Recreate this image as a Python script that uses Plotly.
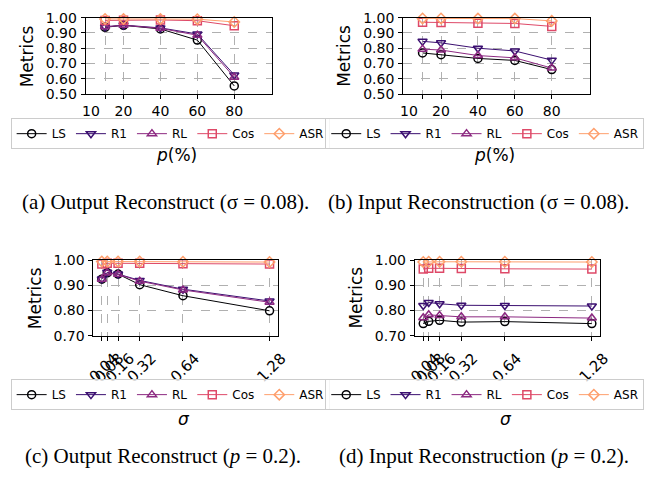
import plotly.graph_objects as go

W, H = 654, 479

series_names = ["LS", "R1", "RL", "Cos", "ASR"]
series_colors = ["#000004", "#3b0f70", "#8c2981", "#de4968", "#fe9f6d"]
series_symbols = ["circle-open", "triangle-down-open", "triangle-up-open", "square-open", "diamond-open"]

# Panel (a) & (b): x = p(%)
p_vals = [10, 20, 40, 60, 80]
p_ticktext = ["10", "20", "40", "60", "80"]

a_LS = [0.937, 0.950, 0.926, 0.853, 0.553]
a_R1 = [0.940, 0.951, 0.933, 0.893, 0.625]
a_RL = [0.940, 0.950, 0.930, 0.885, 0.610]
a_Cos = [0.982, 0.983, 0.985, 0.980, 0.947]
a_ASR = [0.992, 0.992, 0.992, 0.990, 0.972]

b_LS = [0.769, 0.758, 0.733, 0.720, 0.660]
b_R1 = [0.845, 0.835, 0.800, 0.782, 0.722]
b_RL = [0.794, 0.788, 0.752, 0.737, 0.670]
b_Cos = [0.970, 0.969, 0.964, 0.962, 0.943]
b_ASR = [0.995, 0.995, 0.994, 0.994, 0.979]

# Panel (c) & (d): x = sigma
s_vals = [0.04, 0.08, 0.16, 0.32, 0.64, 1.28]
s_ticktext = ["0.04", "0.08", "0.16", "0.32", "0.64", "1.28"]

c_LS = [0.925, 0.950, 0.945, 0.903, 0.859, 0.799]
c_R1 = [0.926, 0.952, 0.945, 0.920, 0.885, 0.838]
c_RL = [0.925, 0.950, 0.944, 0.917, 0.882, 0.833]
c_Cos = [0.985, 0.988, 0.988, 0.988, 0.986, 0.985]
c_ASR = [0.995, 0.995, 0.995, 0.995, 0.994, 0.993]

d_LS = [0.748, 0.757, 0.761, 0.754, 0.756, 0.748]
d_R1 = [0.820, 0.832, 0.827, 0.821, 0.820, 0.818]
d_RL = [0.771, 0.783, 0.780, 0.775, 0.775, 0.770]
d_Cos = [0.965, 0.968, 0.968, 0.967, 0.966, 0.965]
d_ASR = [0.993, 0.994, 0.994, 0.994, 0.994, 0.993]

captions = [
    "(a) Output Reconstruct (σ = 0.08).",
    "(b) Input Reconstruction (σ = 0.08).",
    "(c) Output Reconstruct (<i>p</i> = 0.2).",
    "(d) Input Reconstruction (<i>p</i> = 0.2).",
]

panels = [
    dict(x=p_vals, ys=[a_LS, a_R1, a_RL, a_Cos, a_ASR], px=(80, 272), py=(10, 89),
         xr=[-0.5, 100.5], yr=[0.5, 1.0], ytv=[0.5, 0.6, 0.7, 0.8, 0.9, 1.0],
         ttext=p_ticktext, angle=0, shift=0, standoff=0, xfs=14,
         xtitle="<i>p</i>(%)", xt_y=152,
         leg_x=167, leg_y=130, cap_x=162, cap_y=201, ylab_x=19, firstlab=True),
    dict(x=p_vals, ys=[b_LS, b_R1, b_RL, b_Cos, b_ASR], px=(407, 599), py=(10, 89),
         xr=[-0.5, 100.5], yr=[0.5, 1.0], ytv=[0.5, 0.6, 0.7, 0.8, 0.9, 1.0],
         ttext=p_ticktext, angle=0, shift=0, standoff=0, xfs=14,
         xtitle="<i>p</i>(%)", xt_y=152,
         leg_x=491, leg_y=130, cap_x=485, cap_y=201, ylab_x=346, firstlab=True),
    dict(x=s_vals, ys=[c_LS, c_R1, c_RL, c_Cos, c_ASR], px=(88, 278), py=(261, 339),
         xr=[-0.022, 1.342], yr=[0.7, 1.0], ytv=[0.7, 0.8, 0.9, 1.0],
         ttext=s_ticktext, angle=-45, shift=12, standoff=3, xfs=15,
         xtitle="<i>σ</i>", xt_y=425,
         leg_x=167, leg_y=400, cap_x=160, cap_y=463, ylab_x=28, firstlab=False),
    dict(x=s_vals, ys=[d_LS, d_R1, d_RL, d_Cos, d_ASR], px=(419, 610), py=(261, 339),
         xr=[-0.022, 1.342], yr=[0.7, 1.0], ytv=[0.7, 0.8, 0.9, 1.0],
         ttext=s_ticktext, angle=-45, shift=12, standoff=3, xfs=15,
         xtitle="<i>σ</i>", xt_y=425,
         leg_x=491, leg_y=400, cap_x=490, cap_y=463, ylab_x=358, firstlab=False),
]

FONT = "DejaVu Sans"
TICKSIZE = 14
fig = go.Figure()
layout = dict(width=W, height=H, margin=dict(l=0, r=0, t=0, b=0),
              paper_bgcolor="white", plot_bgcolor="white", showlegend=True,
              font=dict(family=FONT, size=14, color="black"))
annotations = []

for i, pn in enumerate(panels):
    k = "" if i == 0 else str(i + 1)
    legname = "legend" + k
    for j in range(5):
        fig.add_trace(go.Scatter(
            x=pn["x"], y=pn["ys"][j], name=series_names[j], mode="lines+markers",
            line=dict(color=series_colors[j], width=1),
            marker=dict(symbol=series_symbols[j], size=8, color=series_colors[j],
                        line=dict(width=1.5, color=series_colors[j])),
            cliponaxis=False,
            xaxis="x" + k, yaxis="y" + k, legend=legname, showlegend=True))
    x0, x1 = pn["px"]
    y0, y1 = pn["py"]
    ttext = list(pn["ttext"])
    if pn["firstlab"]:
        # the first tick label sits left of its tick (as in the reference)
        annotations.append(dict(text=ttext[0], x=pn["x"][0], xref="x" + k,
                                y=1 - (y1 + 18) / H, yref="paper", xshift=-14,
                                showarrow=False, xanchor="center", yanchor="middle",
                                font=dict(family=FONT, size=pn["xfs"], color="black")))
        ttext[0] = ""
    axcommon = dict(showline=True, linecolor="black", linewidth=1, mirror=True,
                    ticks="outside", ticklen=4, tickcolor="black",
                    showgrid=True, gridcolor="#b0b0b0", griddash="dash", gridwidth=0.8,
                    zeroline=False)
    layout["xaxis" + k] = dict(axcommon, domain=[x0 / W, x1 / W], range=pn["xr"],
                               tickmode="array", tickvals=pn["x"], ticktext=ttext,
                               tickangle=pn["angle"], ticklabelshift=pn["shift"],
                               ticklabelstandoff=pn["standoff"],
                               tickfont=dict(family=FONT, size=pn["xfs"], color="black"),
                               anchor="y" + k)
    layout["yaxis" + k] = dict(axcommon, domain=[1 - y1 / H, 1 - y0 / H], range=pn["yr"],
                               tickmode="array", tickvals=pn["ytv"],
                               ticktext=["%.2f" % v for v in pn["ytv"]],
                               ticklabelstandoff=1,
                               tickfont=dict(family=FONT, size=TICKSIZE, color="black"),
                               anchor="x" + k)
    layout[legname] = dict(orientation="h", x=pn["leg_x"] / W, y=1 - pn["leg_y"] / H,
                           xanchor="center", yanchor="middle", bgcolor="rgba(255,255,255,0.8)",
                           bordercolor="#cccccc", borderwidth=1, itemwidth=30,
                           font=dict(family=FONT, size=12, color="black"),
                           tracegroupgap=0)
    annotations.append(dict(text="Metrics", x=pn["ylab_x"] / W, y=1 - ((y0 + y1) / 2) / H,
                            xref="paper", yref="paper", showarrow=False, textangle=-90,
                            xanchor="center", yanchor="middle",
                            font=dict(family=FONT, size=17, color="black")))
    annotations.append(dict(text=pn["xtitle"], x=((x0 + x1) / 2 - 2) / W, y=1 - pn["xt_y"] / H,
                            xref="paper", yref="paper", showarrow=False,
                            xanchor="center", yanchor="middle",
                            font=dict(family=FONT, size=17, color="black")))
    annotations.append(dict(text=captions[i], x=pn["cap_x"] / W, y=1 - pn["cap_y"] / H,
                            xref="paper", yref="paper", showarrow=False,
                            xanchor="center", yanchor="middle",
                            font=dict(family="Liberation Serif", size=21, color="black")))

layout["annotations"] = annotations
fig.update_layout(**layout)
fig.write_html("out.html", config={"displayModeBar": False},
               post_script="document.body.style.margin='0';")
